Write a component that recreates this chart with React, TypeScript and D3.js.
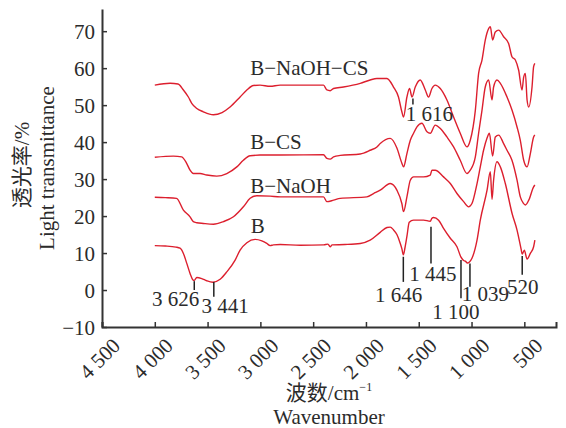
import React, { useEffect, useRef } from 'react';
import * as d3 from 'd3';

const W = 566;
const H = 428;

const xTicks = [4500, 4000, 3500, 3000, 2500, 2000, 1500, 1000, 500];
const xTickLabels = ['4 500', '4 000', '3 500', '3 000', '2 500', '2 000', '1 500', '1 000', '500'];
const yTicks = [-10, 0, 10, 20, 30, 40, 50, 60, 70];

const seriesNames = ['B', 'B−NaOH', 'B−CS', 'B−NaOH−CS'];

const dataB: [number, number][] = [
  [4000, 12.0], [3900, 11.9], [3800, 11.6], [3761, 11.3], [3729, 9.9], [3697, 7.2], [3666, 4.5],
  [3640, 2.8], [3626, 2.6], [3602, 3.4], [3555, 3.1], [3508, 2.5], [3451, 2.1], [3381, 2.9],
  [3318, 4.9], [3239, 8.1], [3192, 10.8], [3128, 12.8], [3050, 13.7], [2986, 13.3], [2939, 12.6],
  [2908, 12.0], [2876, 12.2], [2813, 12.3], [2623, 12.1], [2400, 12.2], [2360, 12.4], [2339, 11.7],
  [2320, 12.2], [2200, 12.3], [2054, 12.6], [1960, 13.5], [1865, 15.6], [1801, 16.9], [1770, 17.0],
  [1740, 16.3], [1707, 15.0], [1675, 12.6], [1660, 11.2], [1646, 9.5], [1630, 11.5], [1612, 14.5],
  [1590, 18.3], [1549, 18.9], [1454, 18.9], [1391, 18.6], [1375, 19.4], [1360, 19.6], [1312, 18.9],
  [1265, 16.7], [1201, 14.0], [1138, 11.7], [1100, 8.9], [1075, 8.0], [1059, 7.8], [1039, 7.3],
  [1020, 7.6], [996, 8.6], [948, 13.5], [917, 18.9], [853, 27.0], [822, 32.0], [806, 24.5],
  [791, 29.7], [759, 34.7], [727, 33.3], [680, 28.8], [616, 20.7], [569, 16.2], [530, 11.0],
  [520, 9.7], [500, 10.8], [474, 8.4], [443, 9.9], [412, 11.7], [400, 13.5],
];

const dataBNaOH: [number, number][] = [
  [4000, 25.1], [3900, 25.0], [3794, 24.8], [3729, 21.6], [3666, 19.8], [3635, 18.5], [3602, 18.2],
  [3540, 18.0], [3445, 17.8], [3350, 18.5], [3255, 19.8], [3161, 22.5], [3097, 24.8], [3034, 25.5],
  [2908, 25.4], [2813, 25.2], [2402, 25.2], [2370, 23.9], [2307, 24.3], [2244, 24.8], [1991, 25.2],
  [1928, 26.1], [1865, 27.0], [1770, 28.8], [1707, 27.0], [1660, 23.4], [1644, 21.2], [1612, 25.2],
  [1580, 29.7], [1549, 30.6], [1454, 30.6], [1391, 31.1], [1375, 32.4], [1344, 32.4], [1265, 30.6],
  [1201, 28.8], [1138, 26.1], [1075, 23.9], [1028, 22.5], [996, 23.4], [948, 28.8], [917, 33.3],
  [886, 37.8], [853, 41.1], [831, 42.4], [800, 36.2], [775, 41.4], [743, 41.9], [696, 39.6],
  [664, 37.8], [617, 35.1], [569, 29.7], [538, 25.2], [510, 23.5], [490, 23.0], [458, 24.3],
  [412, 27.9], [400, 28.4],
];

const dataBCS: [number, number][] = [
  [4000, 35.9], [3824, 36.2], [3745, 36.0], [3697, 34.2], [3666, 32.4], [3635, 31.5], [3571, 31.5],
  [3508, 31.1], [3413, 30.8], [3318, 31.5], [3223, 33.3], [3161, 35.1], [3097, 36.3], [3003, 36.5],
  [2813, 36.5], [2402, 36.6], [2370, 35.6], [2339, 35.4], [2307, 36.0], [2244, 36.4], [2054, 36.8],
  [1960, 37.8], [1896, 38.7], [1865, 39.6], [1770, 41.0], [1707, 38.4], [1660, 34.3], [1644, 33.3],
  [1612, 36.9], [1580, 40.5], [1549, 42.4], [1517, 44.1], [1470, 45.1], [1422, 42.8], [1391, 42.4],
  [1344, 44.6], [1296, 43.7], [1233, 41.4], [1170, 38.7], [1107, 35.1], [1043, 31.5], [1012, 32.4],
  [964, 36.0], [933, 42.4], [901, 48.6], [870, 54.9], [838, 56.8], [806, 51.4], [791, 54.9],
  [759, 56.8], [727, 55.9], [664, 52.2], [616, 48.6], [569, 44.1], [538, 40.5], [506, 35.1],
  [474, 33.3], [443, 36.9], [412, 41.4], [400, 41.9],
];

const dataBNaOHCS: [number, number][] = [
  [4000, 55.4], [3855, 55.9], [3780, 55.7], [3729, 54.1], [3682, 52.2], [3650, 50.5], [3602, 49.1],
  [3540, 48.2], [3445, 47.4], [3363, 48.0], [3287, 49.5], [3192, 52.2], [3128, 54.1], [3066, 55.3],
  [3003, 55.4], [2908, 55.1], [2813, 55.4], [2402, 55.4], [2370, 54.1], [2339, 53.9], [2307, 54.5],
  [2213, 54.9], [2054, 55.9], [1960, 56.8], [1896, 57.2], [1801, 57.2], [1739, 54.9], [1692, 52.2],
  [1660, 48.2], [1644, 46.8], [1612, 52.2], [1587, 54.5], [1564, 52.2], [1533, 54.9], [1486, 56.8],
  [1438, 54.1], [1407, 52.2], [1375, 54.5], [1344, 55.4], [1296, 54.5], [1233, 51.4], [1170, 46.8],
  [1107, 42.4], [1043, 38.7], [1012, 40.5], [964, 48.6], [933, 58.6], [901, 62.2], [870, 67.6],
  [838, 70.7], [822, 71.2], [800, 67.6], [775, 69.8], [743, 70.3], [696, 68.5], [649, 66.7],
  [617, 63.1], [585, 62.2], [554, 59.5], [522, 54.1], [506, 57.6], [490, 58.6], [474, 51.4],
  [458, 49.5], [427, 54.9], [412, 60.4], [400, 61.3],
];

const seriesData = [dataB, dataBNaOH, dataBCS, dataBNaOHCS];
// label anchor (wavenumber, transmittance) for each series name
const seriesLabelAt: [number, number][] = [[3090, 15.4], [3097, 26.2], [3097, 38.1], [3097, 58.1]];

// peak annotations: label, wavenumber of the marker, marker span, label centre (wavenumber, value)
const annLabels = ['3 626', '3 441', '1 646', '1 445', '1 100', '1 039', '520', '1 616'];
const annAt = [3626, 3441, 1646, 1384, 1100, 1015, 520, 1555];
const annSpan: [number, number][] = [[2.4, 0], [2.2, -1.8], [9.0, 2.2], [17.1, 7.2], [8.1, -2.2], [7.2, 0.9], [9.2, 4.1], [51.8, 50.2]];
const annLabelAt: [number, number][] = [[3803, -4.3], [3334, -6.2], [1691, -3.2], [1367, 2.4], [1149, -7.8], [870, -3.0], [514, -1.1], [1400, 45.7]];

const FONT = "'Liberation Serif', 'Times New Roman', 'Noto Sans CJK SC', serif";
const TXT = '#2b2b2b';
const RED = '#dc1f2e';
const FS = 21;

export default function App() {
  const xAxisRef = useRef<SVGGElement>(null);
  const yAxisRef = useRef<SVGGElement>(null);

  const x = d3.scaleLinear().domain([4500, 200]).range([102, 556]);
  const y = d3.scaleLinear().domain([-10, 76]).range([327, 9]);

  const line = d3
    .line<[number, number]>()
    .x((d) => x(d[0]))
    .y((d) => y(d[1]))
    .curve(d3.curveMonotoneX);

  useEffect(() => {
    const gx = d3.select(xAxisRef.current!);
    gx.selectAll('*').remove();
    gx.call(
      d3
        .axisBottom(x)
        .tickValues(xTicks)
        .tickSizeInner(-5)
        .tickSizeOuter(-5)
        .tickFormat((d, i) => xTickLabels[i])
    );
    gx.select('.domain').attr('stroke', '#333').attr('stroke-width', 2);
    gx.selectAll('.tick line').attr('stroke', '#333').attr('stroke-width', 1.5);
    gx.selectAll('.tick text')
      .attr('x', 0)
      .attr('y', 0)
      .attr('dy', 0)
      .attr('transform', 'translate(19,20) rotate(-45)')
      .attr('text-anchor', 'end')
      .attr('fill', TXT)
      .style('font-family', FONT)
      .style('font-size', FS + 'px');

    const gy = d3.select(yAxisRef.current!);
    gy.selectAll('*').remove();
    gy.call(d3.axisLeft(y).tickValues(yTicks).tickSizeInner(-5).tickSizeOuter(0));
    gy.select('.domain').attr('stroke', '#333').attr('stroke-width', 2);
    gy.selectAll('.tick line').attr('stroke', '#333').attr('stroke-width', 1.5);
    gy.selectAll('.tick text')
      .attr('x', -7)
      .attr('dy', '0.35em')
      .attr('fill', TXT)
      .style('font-family', FONT)
      .style('font-size', FS + 'px');
  }, []);

  return (
    <svg
      width={W}
      height={H}
      style={{ position: 'absolute', left: 0, top: 0, background: '#fff' }}
      fontFamily={FONT}
    >
      <rect width={W} height={H} fill="#fff" />
      {seriesData.map((d, i) => (
        <path key={i} d={line(d) ?? ''} fill="none" stroke={RED} strokeWidth={1.4} />
      ))}
      {seriesNames.map((n, i) => (
        <text key={n} x={x(seriesLabelAt[i][0])} y={y(seriesLabelAt[i][1])} fontSize={FS} fill={TXT}>
          {n}
        </text>
      ))}
      {annLabels.map((l, i) => (
        <g key={l}>
          <line
            x1={x(annAt[i])}
            x2={x(annAt[i])}
            y1={y(annSpan[i][0])}
            y2={y(annSpan[i][1])}
            stroke="#222"
            strokeWidth={1.5}
          />
          <text
            x={x(annLabelAt[i][0])}
            y={y(annLabelAt[i][1])}
            textAnchor="middle"
            fontSize={FS}
            fill={TXT}
          >
            {l}
          </text>
        </g>
      ))}
      <g ref={xAxisRef} transform={`translate(0,${y(-10)})`} />
      <g ref={yAxisRef} transform={`translate(${x(4500)},0)`} />
      <text
        transform={`translate(22,${165}) rotate(-90)`}
        textAnchor="middle"
        dominantBaseline="central"
        fontSize={FS}
        fill={TXT}
      >
        透光率/%
      </text>
      <text transform={`translate(54,${168}) rotate(-90)`} textAnchor="middle" fontSize={FS} fill={TXT}>
        Light transmittance
      </text>
      <text x={329} y={400} textAnchor="middle" fontSize={FS} fill={TXT}>
        波数/cm
        <tspan fontSize={12} dy={-9}>
          −1
        </tspan>
      </text>
      <text x={329} y={424} textAnchor="middle" fontSize={FS} fill={TXT}>
        Wavenumber
      </text>
    </svg>
  );
}
